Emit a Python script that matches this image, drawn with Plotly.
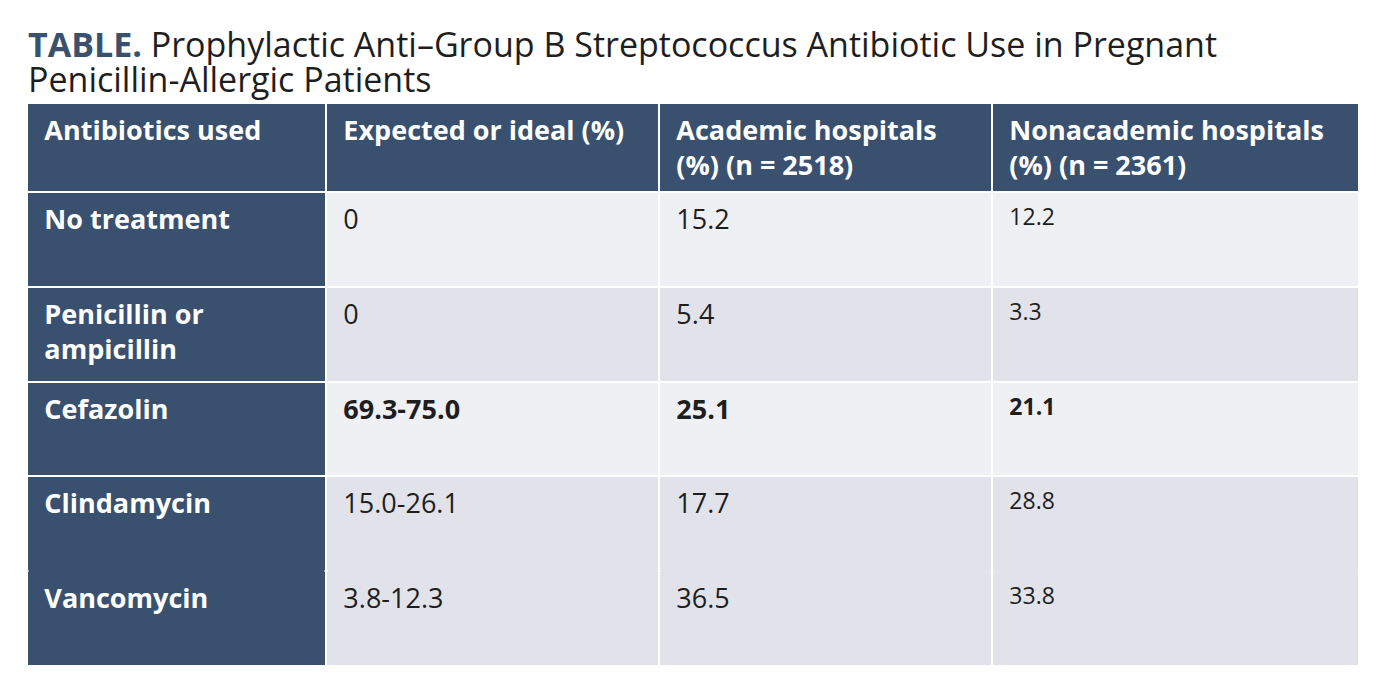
import plotly.graph_objects as go

# ============================================================================
# Data
# ============================================================================

header_labels = [
    "Antibiotics used",
    "Expected or ideal (%)",
    "Academic hospitals<br>(%) (n = 2518)",
    "Nonacademic hospitals<br>(%) (n = 2361)",
]
antibiotics = ["No treatment", "Penicillin or<br>ampicillin", "Cefazolin", "Clindamycin", "Vancomycin"]
expected = ["0", "0", "69.3-75.0", "15.0-26.1", "3.8-12.3"]
academic = [15.2, 5.4, 25.1, 17.7, 36.5]
nonacademic = [12.2, 3.3, 21.1, 28.8, 33.8]
bold_rows = ["Cefazolin"]
# rows drawn as one block (no rule between them), like the source table
joined_rows = ("Clindamycin", "Vancomycin")

# ============================================================================
# Styling
# ============================================================================

NAVY = "#39506f"
LIGHT = "#eff0f4"
DARK = "#e2e3ea"
INK = "#1e1e1e"
PAD = "<span style='font-size:18px'>\u00a0\u00a0</span>"
OFF = 9  # page offset in pixels

W, H = 1388, 694
TABLE_LEFT, TABLE_TOP = 28, 104
COL_W = [299, 333, 333, 367]
HEADER_H = 89
ROW_H = 94.8

row_fill = [LIGHT, DARK, LIGHT, DARK, DARK]


def two_lines(s):
    # keep every cell at two lines so first lines share the same baseline
    s = PAD + s.replace("<br>", "<br>" + PAD)
    if "<br>" not in s:
        s += "<br>\u00a0"
    return s


def fmt(values, names):
    out = []
    for v, n in zip(values, names):
        s = v if isinstance(v, str) else f"{v:.1f}"
        if n in bold_rows:
            s = f"<b>{s}</b>"
        out.append(two_lines(s))
    return out


def px_x(p):
    return (p - OFF) / W


def px_y(p):
    return 1 - (p - OFF) / H


cells = [
    [two_lines(a) for a in antibiotics],
    fmt(expected, antibiotics),
    fmt(academic, antibiotics),
    fmt(nonacademic, antibiotics),
]
col_fill = [[NAVY] * len(antibiotics), row_fill, row_fill, row_fill]

fig = go.Figure(go.Table(
    columnwidth=COL_W,
    domain=dict(x=[px_x(TABLE_LEFT), px_x(TABLE_LEFT + sum(COL_W))], y=[0.0, px_y(TABLE_TOP)]),
    header=dict(
        values=[two_lines(h) for h in header_labels],
        fill_color=NAVY,
        line=dict(color="white", width=2),
        font=dict(family="Open Sans", size=27, color="white", weight="bold"),
        align="left",
        height=HEADER_H,
    ),
    cells=dict(
        values=cells,
        fill_color=col_fill,
        line=dict(color="white", width=2),
        font=dict(
            family="Open Sans",
            size=[27, 27, 27, 23],
            color=["white", INK, INK, INK],
            weight=["bold", "normal", "normal", "normal"],
        ),
        align="left",
        height=ROW_H,
    ),
))

# hide the rule between the joined rows
j = antibiotics.index(joined_rows[1])
rule_y = TABLE_TOP + HEADER_H + j * ROW_H
x0 = TABLE_LEFT
for c, w in enumerate(COL_W):
    fig.add_shape(
        type="rect", xref="paper", yref="paper", layer="above",
        x0=px_x(x0 + 1.5), x1=px_x(x0 + w - 1.5),
        y0=px_y(rule_y - 1.8), y1=px_y(rule_y + 1.8),
        fillcolor=col_fill[c][j], line_width=0,
    )
    x0 += w

fig.add_annotation(
    text="<b><span style='color:#39506f'>TABLE.</span></b> Prophylactic Anti\u2013Group B Streptococcus Antibiotic Use in Pregnant",
    xref="paper", yref="paper", x=px_x(27), y=px_y(20),
    xanchor="left", yanchor="top", showarrow=False,
    font=dict(family="Open Sans", size=34, color=INK),
)
fig.add_annotation(
    text="Penicillin-Allergic Patients",
    xref="paper", yref="paper", x=px_x(27), y=px_y(55),
    xanchor="left", yanchor="top", showarrow=False,
    font=dict(family="Open Sans", size=34, color=INK),
)

fig.update_layout(
    width=W,
    height=H,
    margin=dict(l=0, r=0, t=0, b=0),
    paper_bgcolor="white",
)

fig.write_html("out.html")
